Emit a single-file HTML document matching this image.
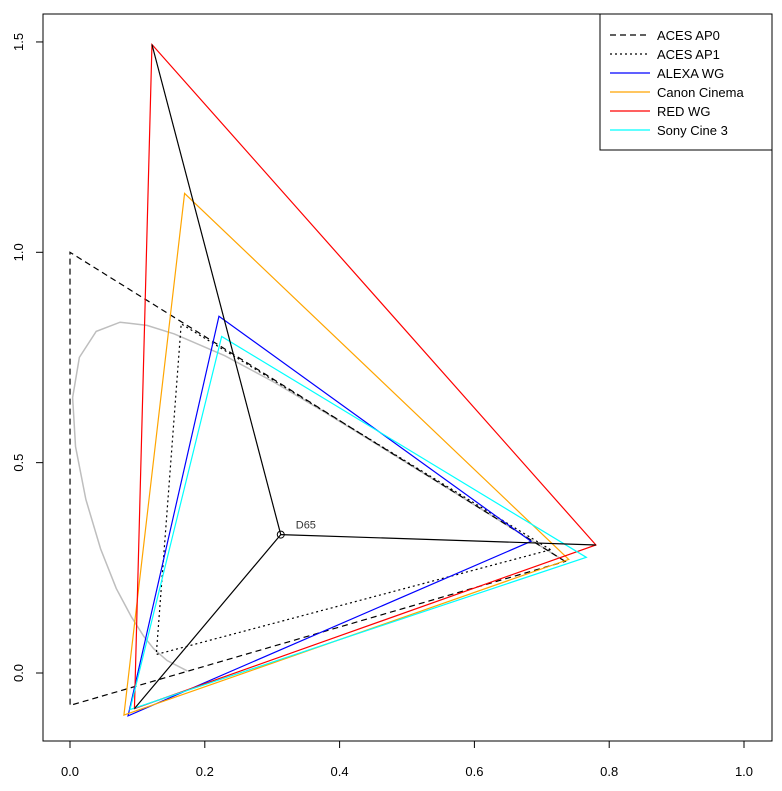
<!DOCTYPE html>
<html><head><meta charset="utf-8"><style>
body{margin:0;background:#fff;}
svg{display:block;font-family:"Liberation Sans",sans-serif;}
</style></head><body>
<svg id="chart" width="782" height="791" viewBox="0 0 782 791" xmlns="http://www.w3.org/2000/svg"></svg>
<script>
const gamutNames=["ACES AP0","ACES AP1","ALEXA WG","Canon Cinema","RED WG","Sony Cine 3"];
const gamutColors=["#000","#000","#0000ff","#ffa500","#ff0000","#00ffff"];
const gamutDash=["6,4","2,3","","","",""];
const gamutX=[[0.7347,0,0.0001],[0.713,0.165,0.128],[0.684,0.221,0.0861],[0.74,0.17,0.08],[0.7803,0.1216,0.0956],[0.766,0.225,0.089]];
const gamutY=[[0.2653,1,-0.077],[0.293,0.830,0.044],[0.313,0.848,-0.102],[0.27,1.14,-0.1],[0.3043,1.494,-0.0846],[0.275,0.800,-0.087]];
const whiteX=0.3127, whiteY=0.329;
const locusX=[0.1741,0.1440,0.1241,0.1096,0.0913,0.0687,0.0454,0.0235,0.0082,0.0039,0.0139,0.0389,0.0743,0.1142,0.1547,0.2296,0.3016,0.3731,0.4441,0.5125,0.5752,0.6270,0.6915,0.7190,0.7347];
const locusY=[0.0050,0.0297,0.0578,0.0868,0.1327,0.2007,0.2950,0.4127,0.5384,0.6548,0.7502,0.8120,0.8338,0.8262,0.8059,0.7543,0.6923,0.6245,0.5547,0.4866,0.4242,0.3725,0.3083,0.2809,0.2653];
const xTicks=[0,0.2,0.4,0.6,0.8,1.0];
const xTickLabels=["0.0","0.2","0.4","0.6","0.8","1.0"];
const yTicks=[0,0.5,1.0,1.5];
const yTickLabels=["0.0","0.5","1.0","1.5"];

const svg=document.getElementById('chart');
const NS="http://www.w3.org/2000/svg";
const sx=v=>70+v*674;
const sy=v=>673-v*420.7;
function mk(tag,attrs,parent){const e=document.createElementNS(NS,tag);for(const k in attrs)e.setAttribute(k,attrs[k]);(parent||svg).appendChild(e);return e;}

const box=mk('rect',{x:43,y:14,width:729,height:727,fill:'none',stroke:'#000','stroke-width':1});



// axes ticks
xTicks.forEach((t,i)=>{
  const l=mk('line',{x1:sx(t),x2:sx(t),y1:741,y2:748,stroke:'#000'});
  
  
  const tx=mk('text',{x:sx(t),y:776,'text-anchor':'middle','font-size':13});
  tx.textContent=xTickLabels[i];
  
  
});
yTicks.forEach((t,i)=>{
  const l=mk('line',{x1:36,x2:43,y1:sy(t),y2:sy(t),stroke:'#000'});
  
  
  const tx=mk('text',{x:0,y:0,'text-anchor':'middle','font-size':13,transform:`translate(23,${sy(t)}) rotate(-90)`});
  tx.textContent=yTickLabels[i];
  
  
});

// spectral locus
const loc=mk('polyline',{points:locusX.map((x,i)=>sx(x)+','+sy(locusY[i])).join(' '),fill:'none',stroke:'#bebebe','stroke-width':1.5});



// gamuts
gamutNames.forEach((n,i)=>{
  const pts=gamutX[i].map((x,j)=>sx(x)+','+sy(gamutY[i][j])).join(' ');
  const p=mk('polygon',{points:pts,fill:'none',stroke:gamutColors[i],'stroke-width':1.2});
  if(gamutDash[i])p.setAttribute('stroke-dasharray',gamutDash[i]);
  
  
});

// white point lines to RED WG primaries
const ri=4;
gamutX[ri].forEach((x,j)=>{
  const l=mk('line',{x1:sx(whiteX),y1:sy(whiteY),x2:sx(x),y2:sy(gamutY[ri][j]),stroke:'#000','stroke-width':1.2});
  
  
});
const c=mk('circle',{cx:sx(whiteX),cy:sy(whiteY),r:3.5,fill:'none',stroke:'#000'});


const d=mk('text',{x:sx(whiteX)+15,y:sy(whiteY)-6,'font-size':11,fill:'#333'});
d.textContent='D65';



// legend
const lg=mk('g',{});


mk('rect',{x:600,y:14,width:172,height:136,fill:'#fff',stroke:'#000'},lg);
gamutNames.forEach((n,i)=>{
  const y=35+i*19;
  const g=mk('g',{},lg);
  
  
  const l=mk('line',{x1:610,x2:650,y1:y,y2:y,stroke:gamutColors[i],'stroke-width':1.2},g);
  if(gamutDash[i])l.setAttribute('stroke-dasharray',gamutDash[i]);
  const t=mk('text',{x:657,y:y+5,'font-size':13},g);
  t.textContent=n;
});
</script>
</body></html>
